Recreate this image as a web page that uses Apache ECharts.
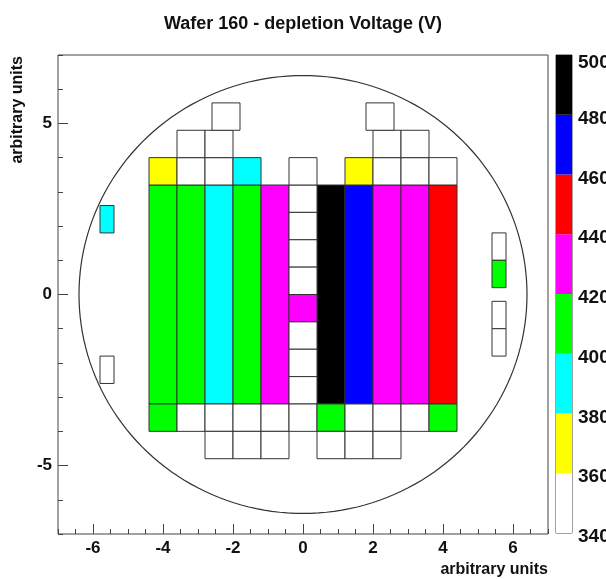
<!DOCTYPE html>
<html>
<head>
  <meta charset="UTF-8">
  <title>Wafer 160 - depletion Voltage (V)</title>
  <script src="https://cdn.jsdelivr.net/npm/echarts@6/dist/echarts.min.js"></script>
  <style>
    html, body { margin: 0; padding: 0; background: #fff; }
    #chart { width: 606px; height: 579px; }
  </style>
</head>
<body>
  <div id="chart"></div>

  <script>
    // colour scale (V) and its ROOT-like palette
    var bandEdges = [340, 360, 380, 400, 420, 440, 460, 480, 500];
    var bandColors = ['#ffffff', '#ffff00', '#00ffff', '#00ff00', '#ff00ff', '#ff0000', '#0000ff', '#000000'];

    var xTicks = [-6, -4, -2, 0, 2, 4, 6];
    var yTicks = [-5, 0, 5];

    // wafer outline
    var waferCentre = [0, 0];
    var waferRadius = 6.4;

    // sensors: [x0, x1, y0, y1, voltage]
    var stripCells = [
      [-4.4, -3.6, -3.2, 3.2, 410], [-3.6, -2.8, -3.2, 3.2, 410], [-2.8, -2.0, -3.2, 3.2, 390],
      [-2.0, -1.2, -3.2, 3.2, 410], [-1.2, -0.4, -3.2, 3.2, 430], [0.4, 1.2, -3.2, 3.2, 490],
      [1.2, 2.0, -3.2, 3.2, 470], [2.0, 2.8, -3.2, 3.2, 430], [2.8, 3.6, -3.2, 3.2, 430],
      [3.6, 4.4, -3.2, 3.2, 450]
    ];
    var centreCells = [
      [-0.4, 0.4, 2.4, 3.2, 350], [-0.4, 0.4, 1.6, 2.4, 350], [-0.4, 0.4, 0.8, 1.6, 350],
      [-0.4, 0.4, 0.0, 0.8, 350], [-0.4, 0.4, -0.8, 0.0, 430], [-0.4, 0.4, -1.6, -0.8, 350],
      [-0.4, 0.4, -2.4, -1.6, 350], [-0.4, 0.4, -3.2, -2.4, 350]
    ];
    var topCells = [
      [-4.4, -3.6, 3.2, 4.0, 370], [-3.6, -2.8, 3.2, 4.0, 350], [-2.8, -2.0, 3.2, 4.0, 350],
      [-2.0, -1.2, 3.2, 4.0, 390], [-0.4, 0.4, 3.2, 4.0, 350], [1.2, 2.0, 3.2, 4.0, 370],
      [2.0, 2.8, 3.2, 4.0, 350], [2.8, 3.6, 3.2, 4.0, 350], [3.6, 4.4, 3.2, 4.0, 350],
      [-3.6, -2.8, 4.0, 4.8, 350], [-2.8, -2.0, 4.0, 4.8, 350],
      [2.0, 2.8, 4.0, 4.8, 350], [2.8, 3.6, 4.0, 4.8, 350],
      [-2.6, -1.8, 4.8, 5.6, 350], [1.8, 2.6, 4.8, 5.6, 350]
    ];
    var bottomCells = [
      [-4.4, -3.6, -4.0, -3.2, 410], [-3.6, -2.8, -4.0, -3.2, 350], [-2.8, -2.0, -4.0, -3.2, 350],
      [-2.0, -1.2, -4.0, -3.2, 350], [-1.2, -0.4, -4.0, -3.2, 350], [-0.4, 0.4, -4.0, -3.2, 350],
      [0.4, 1.2, -4.0, -3.2, 410], [1.2, 2.0, -4.0, -3.2, 350], [2.0, 2.8, -4.0, -3.2, 350],
      [2.8, 3.6, -4.0, -3.2, 350], [3.6, 4.4, -4.0, -3.2, 410],
      [-2.8, -2.0, -4.8, -4.0, 350], [-2.0, -1.2, -4.8, -4.0, 350], [-1.2, -0.4, -4.8, -4.0, 350],
      [0.4, 1.2, -4.8, -4.0, 350], [1.2, 2.0, -4.8, -4.0, 350], [2.0, 2.8, -4.8, -4.0, 350]
    ];
    var sideCells = [
      [-5.8, -5.4, 1.8, 2.6, 390], [-5.8, -5.4, -2.6, -1.8, 350],
      [5.4, 5.8, 1.0, 1.8, 350], [5.4, 5.8, 0.2, 1.0, 410],
      [5.4, 5.8, -1.0, -0.2, 350], [5.4, 5.8, -1.8, -1.0, 350]
    ];

    var allCells = stripCells.concat(centreCells, topCells, bottomCells, sideCells);

    function colorFor(v) {
      for (var i = 0; i < bandColors.length; i++) {
        if (v < bandEdges[i + 1]) return bandColors[i];
      }
      return bandColors[bandColors.length - 1];
    }

    var bands = [];
    for (var i = 0; i < bandColors.length; i++) {
      bands.push([0, 1, bandEdges[i], bandEdges[i + 1], i]);
    }

    var font = "'Liberation Sans', Arial, sans-serif";
    var labelStyle = { fontFamily: font, fontWeight: 'bold', fontSize: 17, color: '#111' };
    var noLine = { show: false, onZero: false };

    function rectItem(x0, x1, y0, y1, api) {
      var a = api.coord([x0, y1]);
      var b = api.coord([x1, y0]);
      return { x: a[0], y: a[1], width: b[0] - a[0], height: b[1] - a[1] };
    }

    var chart = echarts.init(document.getElementById('chart'));
    chart.setOption({
      animation: false,
      backgroundColor: '#fff',
      title: {
        text: 'Wafer 160 - depletion Voltage (V)',
        left: 'center',
        top: 10,
        textStyle: { fontFamily: font, fontWeight: 'bold', fontSize: 18, color: '#111' }
      },
      graphic: [{
        type: 'text',
        x: 18,
        y: 56,
        rotation: Math.PI / 2,
        style: {
          text: 'arbitrary units',
          font: 'bold 16px ' + font,
          fill: '#111',
          align: 'right',
          verticalAlign: 'middle'
        }
      }],
      grid: [
        { left: 58, top: 55, width: 490, height: 479, show: true, borderColor: '#444', borderWidth: 1,
          outerBoundsMode: 'none' },
        { left: 556, top: 55, width: 16, height: 478, show: true, borderColor: '#444', borderWidth: 1,
          outerBoundsMode: 'none' }
      ],
      xAxis: [
        {
          gridIndex: 0, type: 'value', min: -7, max: 7, interval: 0.5, position: 'bottom',
          axisLine: noLine, splitLine: { show: false },
          axisTick: { inside: true, length: 5, lineStyle: { color: '#444' } },
          axisLabel: { show: false }
        },
        {
          gridIndex: 0, type: 'value', min: -7, max: 7, interval: 1, position: 'bottom',
          axisLine: noLine, splitLine: { show: false },
          axisTick: { inside: true, length: 10, customValues: xTicks, lineStyle: { color: '#444' } },
          axisLabel: Object.assign({ customValues: xTicks, margin: 6 }, labelStyle),
          name: 'arbitrary units',
          nameLocation: 'end',
          nameGap: 0,
          nameTextStyle: { fontFamily: font, fontWeight: 'bold', fontSize: 16, color: '#111',
            align: 'right', verticalAlign: 'top', padding: [28, 0, 0, 0] }
        },
        { gridIndex: 1, type: 'value', min: 0, max: 1, show: false }
      ],
      yAxis: [
        {
          gridIndex: 0, type: 'value', min: -7, max: 7, interval: 1, position: 'left',
          axisLine: noLine, splitLine: { show: false },
          axisTick: { inside: true, length: 5, lineStyle: { color: '#444' } },
          axisLabel: { show: false }
        },
        {
          gridIndex: 0, type: 'value', min: -7, max: 7, interval: 1, position: 'left',
          axisLine: noLine, splitLine: { show: false },
          axisTick: { inside: true, length: 10, customValues: yTicks, lineStyle: { color: '#444' } },
          axisLabel: Object.assign({ customValues: yTicks, margin: 6 }, labelStyle)
        },
        {
          gridIndex: 1, type: 'value', min: 340, max: 500, interval: 20, position: 'right',
          axisLine: noLine, splitLine: { show: false }, axisTick: { show: false },
          axisLabel: {
            margin: 6,
            fontFamily: font, fontWeight: 'bold', fontSize: 19, color: '#111',
            padding: [8, 0, 0, 0],
            formatter: function (v) {
              return v === bandEdges[bandEdges.length - 1] ? '{top|' + v + '}' : String(v);
            },
            rich: {
              top: { fontFamily: font, fontWeight: 'bold', fontSize: 19, color: '#111', padding: [8, 0, 0, 0] }
            }
          }
        }
      ],
      series: [
        {
          type: 'custom',
          xAxisIndex: 0, yAxisIndex: 0,
          data: allCells,
          encode: { x: [0, 1], y: [2, 3] },
          renderItem: function (params, api) {
            return {
              type: 'rect',
              shape: rectItem(api.value(0), api.value(1), api.value(2), api.value(3), api),
              style: { fill: colorFor(api.value(4)), stroke: '#333', lineWidth: 1 }
            };
          }
        },
        {
          type: 'custom',
          xAxisIndex: 0, yAxisIndex: 0,
          data: [[waferCentre[0], waferCentre[1], waferRadius]],
          encode: { x: 0, y: 1 },
          renderItem: function (params, api) {
            var cx = api.value(0), cy = api.value(1), r = api.value(2);
            var pts = [];
            for (var k = 0; k <= 360; k += 2) {
              var t = k * Math.PI / 180;
              pts.push(api.coord([cx + r * Math.cos(t), cy + r * Math.sin(t)]));
            }
            return {
              type: 'polyline',
              shape: { points: pts },
              style: { fill: null, stroke: '#333', lineWidth: 1.2 }
            };
          }
        },
        {
          type: 'custom',
          xAxisIndex: 2, yAxisIndex: 2,
          data: bands,
          encode: { x: [0, 1], y: [2, 3] },
          renderItem: function (params, api) {
            return {
              type: 'rect',
              shape: rectItem(api.value(0), api.value(1), api.value(2), api.value(3), api),
              style: { fill: bandColors[api.value(4)] }
            };
          }
        }
      ]
    });
  </script>
</body>
</html>
